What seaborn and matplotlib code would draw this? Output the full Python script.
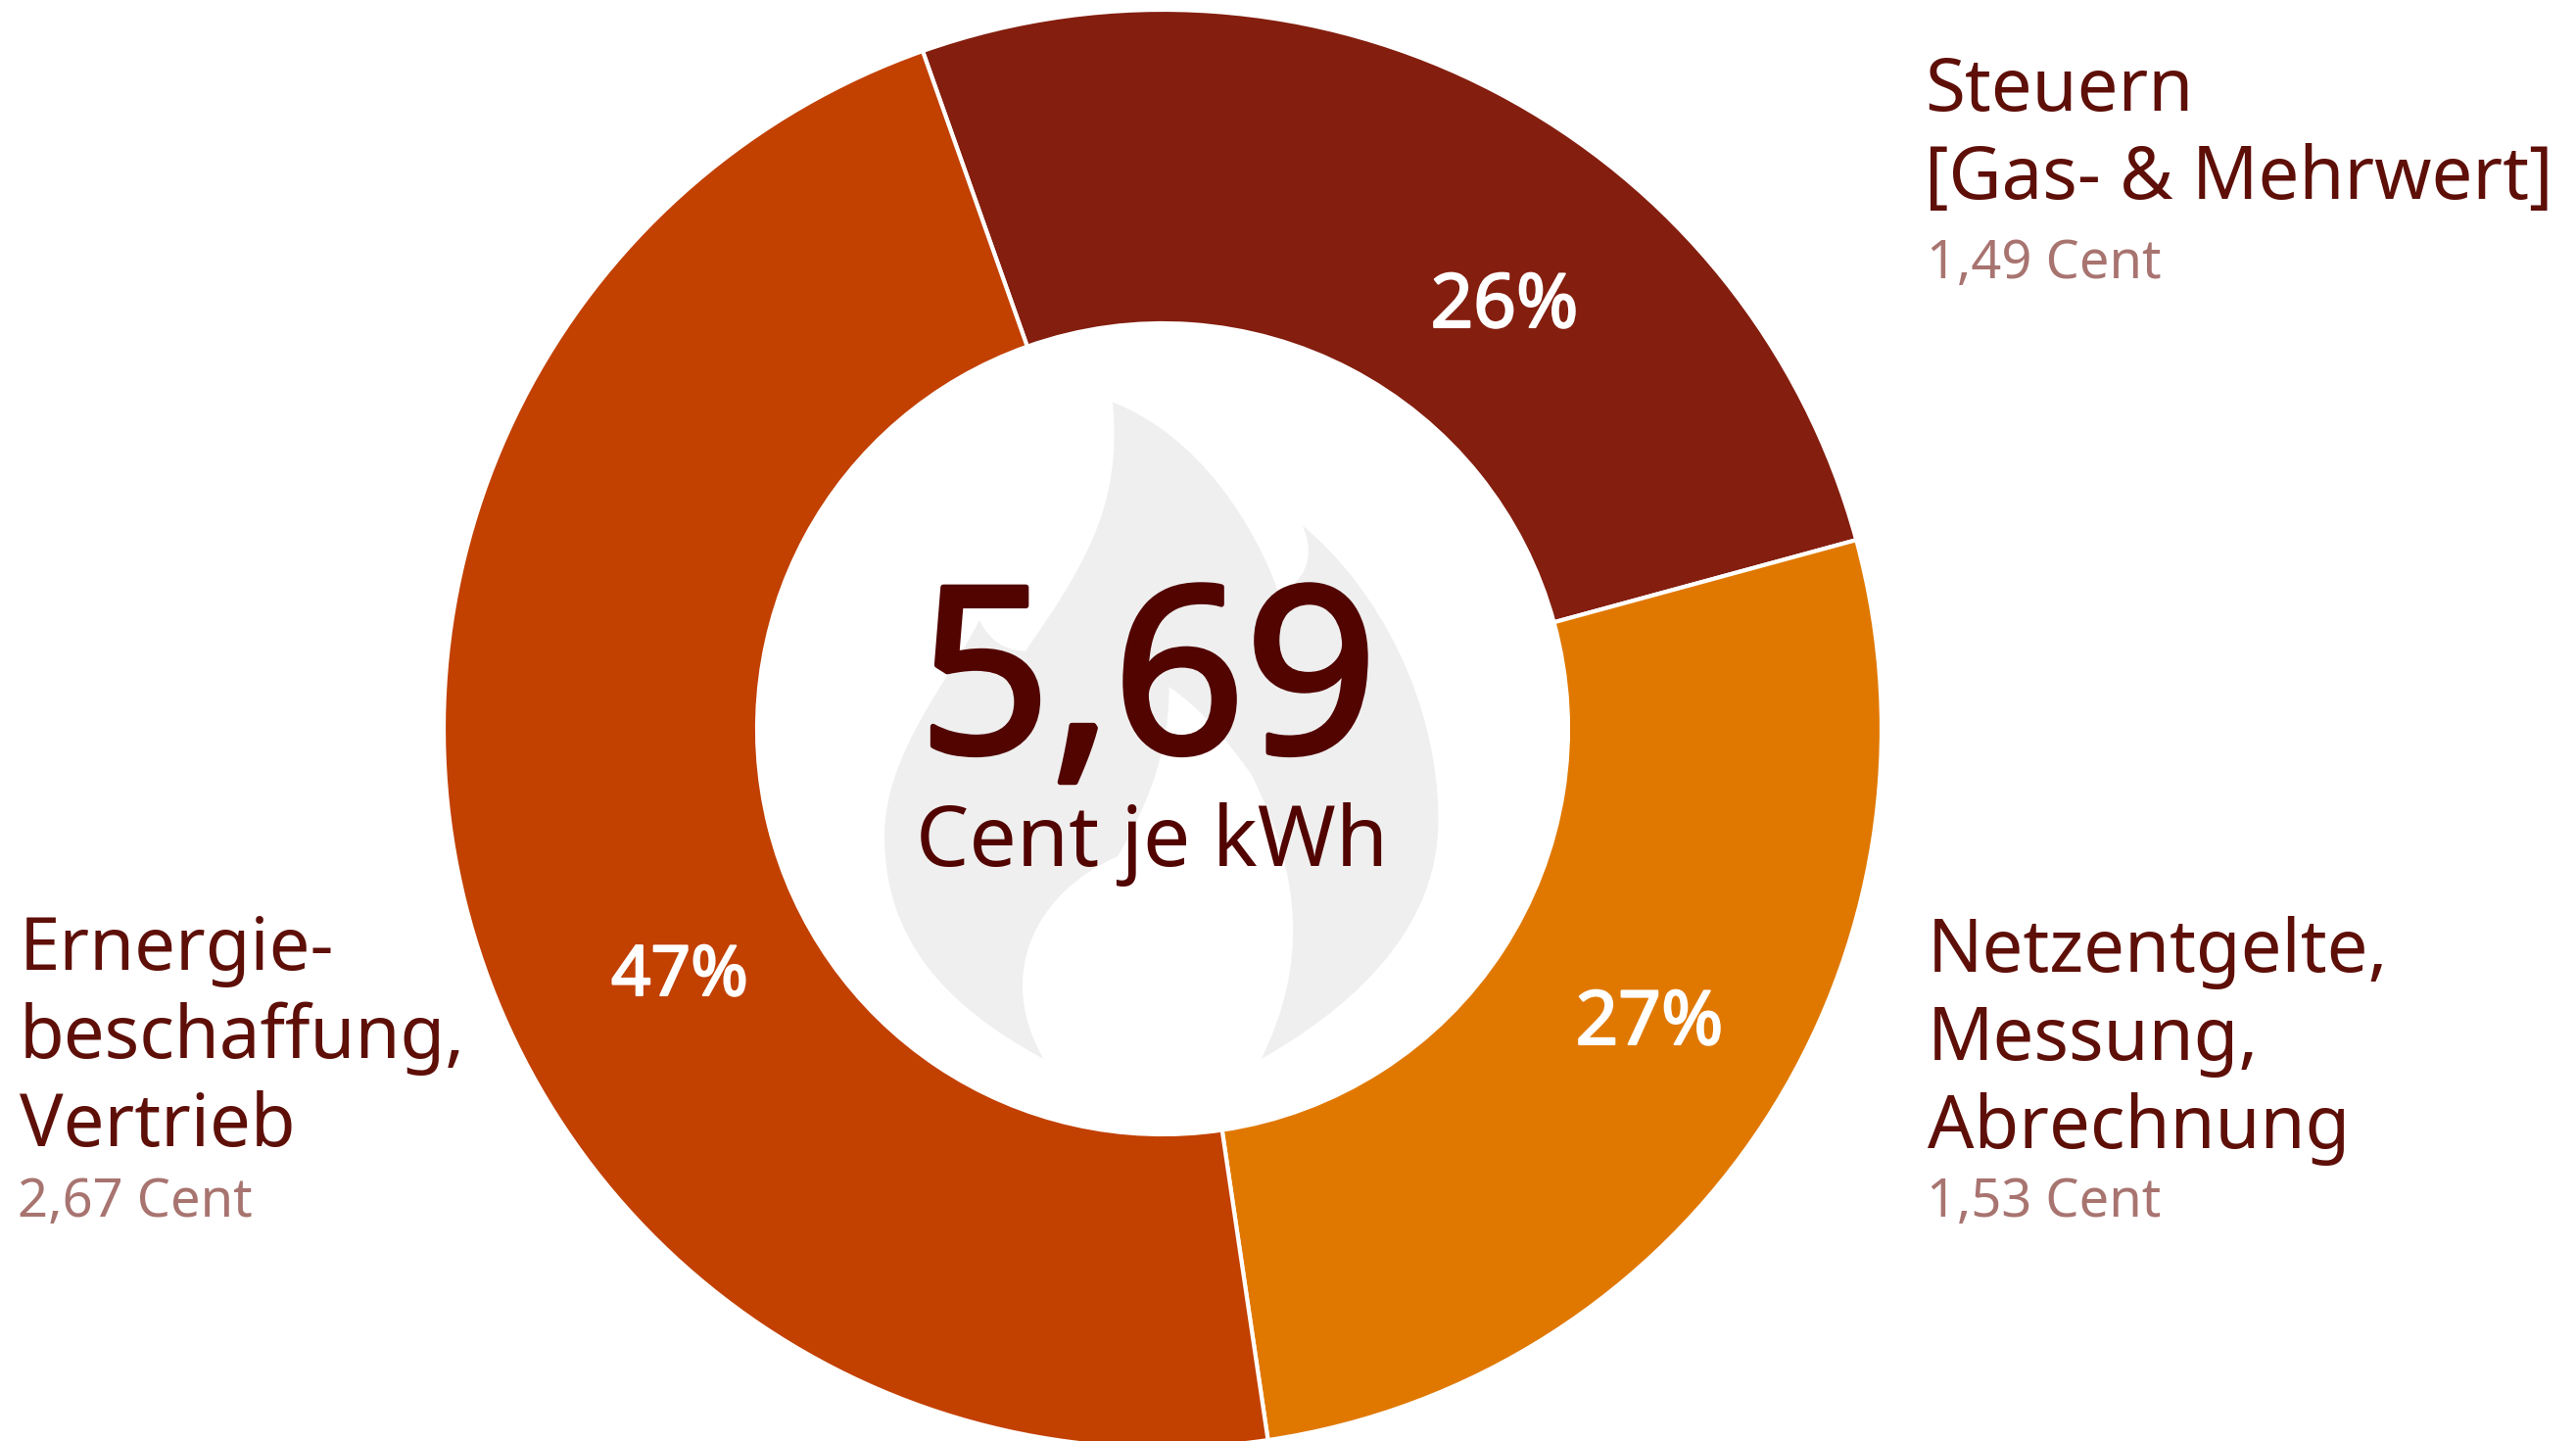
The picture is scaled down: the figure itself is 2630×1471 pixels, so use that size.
import matplotlib
matplotlib.use("Agg")
import matplotlib.pyplot as plt
import matplotlib.patheffects as pe
from matplotlib.patches import PathPatch
from matplotlib.path import Path
import seaborn as sns

# Values from the chart
categories = ["Steuern", "Netzentgelte", "Energie"]
cent_values = [1.49, 1.53, 2.67]
percent_labels = ["26%", "27%", "47%"]
cent_labels = ["1,49 Cent", "1,53 Cent", "2,67 Cent"]
total_label = "5,69"
unit_label = "Cent je kWh"
name_lines = [
    ["Steuern", "[Gas- & Mehrwert]"],
    ["Netzentgelte,", "Messung,", "Abrechnung"],
    ["Ernergie-", "beschaffung,", "Vertrieb"],
]

colors = sns.color_palette(["#841E0F", "#E07800", "#C24000"])
dark_text = "#5E0F08"
light_text = "#A87470"

W, H = 2630, 1471

sns.set_theme(style="white")
plt.rcParams["font.family"] = ["Noto Sans", "DejaVu Sans"]

fig = plt.figure(figsize=(W / 100, H / 100), dpi=100)
ax = fig.add_axes([0, 0, 1, 1])


# Reference pixels have y going down
def py(y):
    return H - y


# Donut
cx, cy, outer, inner = 1187, 744, 734, 414
ax.pie(
    cent_values,
    colors=colors,
    startangle=109.5,
    counterclock=False,
    center=(cx, py(cy)),
    radius=outer,
    wedgeprops=dict(width=outer - inner, edgecolor="white", linewidth=3),
)
ax.set_aspect("equal")
ax.set_xlim(0, W)
ax.set_ylim(0, H)
ax.axis("off")


def flame_xy(x, y):
    return 780 + x / 1.91, py(340 + y / 1.91)


M, C = Path.MOVETO, Path.CURVE4
flame_pts = [
    (680, 135),
    (850, 200), (960, 380), (1005, 510),
    (1060, 480), (1075, 430), (1050, 375),
    (1200, 500), (1315, 720), (1315, 950),
    (1315, 1180), (1120, 1330), (970, 1415),
    (1060, 1230), (1050, 1060), (950, 860),
    (900, 790), (850, 730), (790, 690),
    (790, 800), (760, 900), (690, 1020),
    (530, 1090), (450, 1250), (545, 1415),
    (350, 1310), (235, 1180), (235, 980),
    (235, 820), (360, 680), (420, 560),
    (440, 600), (470, 620), (510, 620),
    (620, 460), (700, 340), (680, 135),
]
flame_codes = [M] + [C] * (len(flame_pts) - 1)
flame = PathPatch(
    Path([flame_xy(*p) for p in flame_pts], flame_codes),
    facecolor="#EFEFEF", edgecolor="none", zorder=3,
)
ax.add_patch(flame)

# Center text, the stroke stands in for a medium weight
ax.text(1172, py(768), total_label, fontsize=170, color="#520400",
        ha="center", va="baseline", zorder=4,
        path_effects=[pe.withStroke(linewidth=4, foreground="#520400")])
ax.text(1176, py(884), unit_label, fontsize=62, color="#520400",
        ha="center", va="baseline", zorder=4)

# Percent labels on the ring
pct_pos = [(1536, 334), (1684, 1066), (694, 1016)]
pct_sizes = [55, 55, 51]
for label, (x, y), size in zip(percent_labels, pct_pos, pct_sizes):
    ax.text(x, py(y), label, fontsize=size, color="white",
            ha="center", va="baseline", zorder=4,
            path_effects=[pe.withStroke(linewidth=1.5, foreground="white")])

# Outside labels
name_pos = [(1965, [113, 203]), (1968, [992, 1082, 1172]), (20, [990, 1080, 1170])]
cent_pos = [(1967, 284), (1967, 1242), (18, 1242)]
for lines, (x, ys) in zip(name_lines, name_pos):
    for line, y in zip(lines, ys):
        ax.text(x, py(y), line, fontsize=53.5, color=dark_text, ha="left", va="baseline")
for label, (x, y) in zip(cent_labels, cent_pos):
    ax.text(x, py(y), label, fontsize=39, color=light_text, ha="left", va="baseline")

fig.savefig("out.png", dpi=100, facecolor="white")
